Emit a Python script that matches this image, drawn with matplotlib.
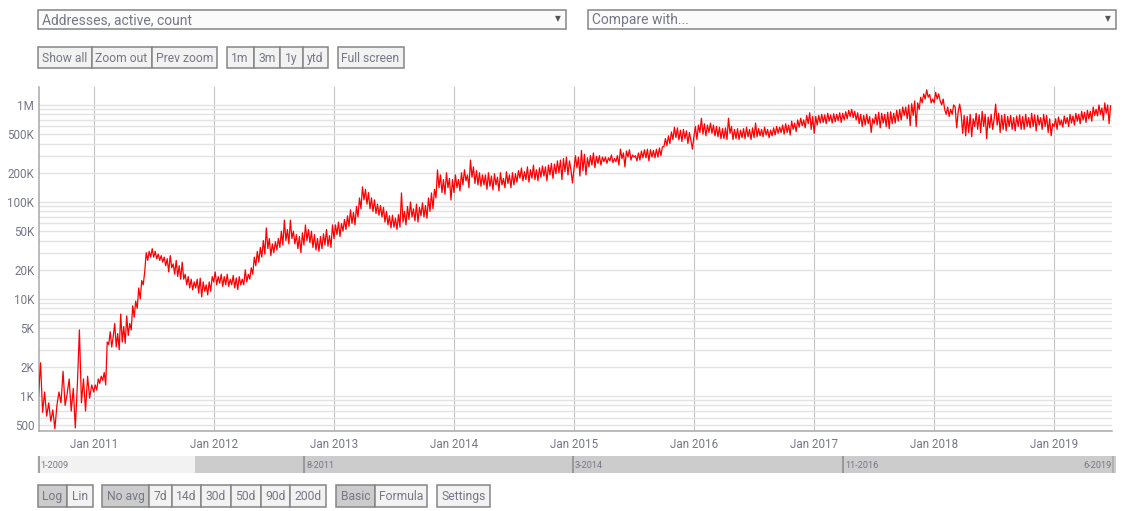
import pandas as pd
import matplotlib
matplotlib.use("Agg")
import matplotlib.pyplot as plt
from matplotlib.patches import Rectangle
from matplotlib.ticker import FixedLocator, NullFormatter

# active addresses, in thousands
y2010 = [1.0, 2.2, 0.68, 1.1, 0.62, 0.85, 0.55, 0.72, 0.46, 0.8, 1.1, 0.85, 1.8, 0.8, 1.05, 1.5, 0.7, 1.2, 0.47, 1.3,
         4.8, 0.85, 1.5, 0.7, 1.6, 0.95, 1.3]
y2011 = [1.1, 1.3, 1.15, 1.5, 1.35, 1.6, 1.45, 1.75, 1.3, 3.6, 3.4, 4.6, 3.2, 4.1, 5.6, 3.2, 4.4, 3.0, 7.0, 3.6,
         5.2, 3.5, 6.7, 4.2, 5.6, 4.8, 8.5, 6.5, 9.5, 8, 13, 10, 15.5, 14, 19, 30, 25, 31, 27, 33,
         27, 31, 26, 29, 25, 28, 24, 27, 22, 26, 19, 28, 21, 23, 18, 25, 17, 22, 16, 24,
         16, 18, 14, 17, 13, 16, 12.4, 15, 13, 16, 11.5, 16.4, 10.5, 15, 12, 14, 11, 15, 12, 17]
y2012 = [15, 19, 14, 17, 14.5, 18, 13.5, 17, 14, 18, 13.5, 16, 14, 17.5, 13, 16.5, 12.5, 17, 14, 16,
         14, 20, 15, 18, 16, 21, 18, 27, 22, 31, 24, 34, 27, 40, 29, 54, 33, 42, 28, 37,
         30, 39, 32, 42, 34, 50, 36, 65, 40, 52, 37, 65, 42, 50, 37, 46, 33, 44, 30, 48,
         36, 58, 40, 52, 38, 50, 34, 46, 32, 42, 31, 44, 33, 47, 36, 52, 35, 45, 34, 58]
y2013 = [42, 58, 46, 62, 44, 60, 50, 66, 52, 72, 56, 83, 60, 78, 58, 90, 70, 110, 85, 143,
         105, 135, 95, 125, 85, 110, 80, 105, 76, 95, 73, 92, 70, 88, 62, 80, 58, 72, 54, 73,
         55, 68, 52, 74, 55, 124, 62, 80, 58, 90, 66, 100, 70, 85, 64, 95, 62, 88, 72, 98,
         70, 92, 68, 110, 80, 124, 85, 135, 110, 214, 140, 190, 125, 170, 120, 200, 140, 175, 105, 170]
y2014 = [125, 190, 140, 170, 130, 200, 150, 215, 165, 190, 140, 270, 180, 230, 155, 210, 150, 200, 145, 190,
         150, 190, 135, 200, 145, 185, 133, 195, 150, 180, 130, 200, 150, 175, 140, 205, 155, 190, 140, 200,
         150, 195, 160, 210, 176, 224, 165, 205, 170, 230, 160, 215, 176, 240, 170, 215, 165, 225, 180, 235,
         185, 230, 165, 240, 190, 250, 175, 245, 195, 265, 200, 270, 170, 280, 205, 290, 190, 265, 215, 157]
y2015 = [215, 300, 225, 290, 185, 340, 210, 310, 190, 285, 230, 300, 240, 320, 225, 295, 250, 300, 240, 290,
         260, 290, 250, 285, 265, 305, 255, 280, 260, 300, 240, 350, 280, 320, 230, 335, 290, 345, 270, 305,
         290, 300, 265, 320, 270, 335, 285, 345, 285, 350, 265, 345, 290, 340, 285, 350, 290, 360, 300, 370,
         370, 450, 380, 480, 400, 527, 440, 590, 460, 580, 436, 550, 420, 560, 450, 540, 400, 520, 430, 350]
y2016 = [470, 600, 440, 620, 520, 730, 500, 640, 480, 620, 520, 650, 510, 620, 480, 600, 470, 590, 450, 570,
         450, 580, 440, 730, 510, 600, 440, 560, 450, 570, 440, 550, 460, 570, 450, 590, 470, 560, 440, 580,
         460, 650, 470, 570, 480, 560, 470, 590, 490, 560, 460, 550, 480, 580, 490, 600, 510, 590, 520, 620,
         500, 640, 520, 620, 490, 680, 560, 650, 530, 700, 590, 730, 610, 700, 580, 780, 640, 830, 560, 760]
y2017 = [510, 760, 620, 780, 650, 800, 660, 790, 640, 820, 680, 790, 650, 810, 670, 800, 690, 830, 660, 820,
         700, 850, 720, 880, 760, 900, 740, 860, 700, 830, 640, 800, 600, 780, 620, 800, 640, 760, 520, 720,
         640, 800, 620, 840, 580, 820, 650, 800, 600, 840, 570, 850, 640, 820, 650, 880, 680, 900, 700, 950,
         780, 950, 720, 1000, 610, 1030, 780, 1100, 600, 1050, 900, 1200, 1050, 1300, 1150, 1430, 1200, 1280, 1050, 1150]
y2018 = [1050, 1350, 1150, 1300, 1100, 1000, 1150, 900, 800, 950, 760, 900, 800, 1000, 950, 580, 850, 1020, 800, 510,
         780, 480, 760, 520, 800, 470, 720, 600, 820, 560, 790, 520, 860, 600, 800, 450, 750, 580, 800, 560,
         720, 1020, 620, 820, 520, 780, 560, 800, 540, 760, 600, 780, 560, 740, 540, 770, 600, 790, 560, 760,
         560, 800, 600, 740, 580, 820, 600, 790, 540, 780, 620, 740, 560, 800, 600, 780, 520, 720, 480, 640]
y2019 = [600, 720, 560, 750, 620, 700, 590, 770, 640, 740, 600, 800, 650, 770, 620, 820, 680, 800, 640, 860,
         700, 840, 660, 880, 720, 860, 680, 950, 780, 900, 770, 1000, 800, 930, 700, 1050, 820, 1000, 640, 980]

yearly = [y2010, y2011, y2012, y2013, y2014, y2015, y2016, y2017, y2018, y2019]
year_starts = ["2010-07-17", "2011-01-01", "2012-01-01", "2013-01-01", "2014-01-01", "2015-01-01",
               "2016-01-01", "2017-01-01", "2018-01-01", "2019-01-01", "2019-06-26"]

y_ticks = [500, 1000, 2000, 5000, 10000, 20000, 50000, 100000, 200000, 500000, 1000000]
y_labels = ["500", "1K", "2K", "5K", "10K", "20K", "50K", "100K", "200K", "500K", "1M"]
year_ticks = ["2011", "2012", "2013", "2014", "2015", "2016", "2017", "2018", "2019"]
nav_dates = ["2009-01-08", "2011-08-08", "2014-03-17", "2016-11-01", "2019-06-15"]
nav_labels = ["1-2009", "8-2011", "3-2014", "11-2016", "6-2019"]

W, H = 1140, 511
TEXT = "#757786"
EDGE = "#858585"

plt.rcParams["font.family"] = ["Roboto", "DejaVu Sans"]


def buildSeries():
	dates, values = [], []
	for idx, vals in enumerate(yearly):
		start = pd.Timestamp(year_starts[idx])
		stop = pd.Timestamp(year_starts[idx + 1])
		step = (stop - start) / len(vals)
		for i, v in enumerate(vals):
			dates.append(start + step * i)
			values.append(v * 1000)
	return dates, values


def axRect(x0, y0, x1, y1):
	# pixel box, y from the top, to figure fractions
	return [x0 / W, 1 - y1 / H, (x1 - x0) / W, (y1 - y0) / H]


def button(ax, x0, x1, y0, y1, label, active=False):
	ax.add_patch(Rectangle((x0, y0), x1 - x0, y1 - y0, fc="#cccccc" if active else "#f2f2f2", ec=EDGE, lw=1.1))
	ax.text((x0 + x1) / 2, (y0 + y1) / 2 + 0.5, label, ha="center", va="center", color=TEXT, fontsize=8.7)


fig = plt.figure(figsize=(W / 100, H / 100), dpi=100, facecolor="white")

# overlay for the html controls, in pixels
ui = fig.add_axes([0, 0, 1, 1])
ui.set_xlim(0, W)
ui.set_ylim(H, 0)
ui.axis("off")

for x0, x1, label in [(37.5, 565.5, "Addresses, active, count"), (587.5, 1115.5, "Compare with...")]:
	ui.add_patch(Rectangle((x0, 10.5), x1 - x0, 18.5, fc="#fbfbfb", ec=EDGE, lw=1.1))
	ui.text(x0 + 4.5, 20, label, ha="left", va="center", color=TEXT, fontsize=10)
	ui.text(x1 - 8, 19, "\u25bc", ha="center", va="center", color="#555555", fontsize=5.5, family="DejaVu Sans")

top_edges = [37.5, 91.5, 151.5, 217]
for i, label in enumerate(["Show all", "Zoom out", "Prev zoom"]):
	button(ui, top_edges[i], top_edges[i + 1], 47, 68.5, label)
range_edges = [226.5, 253.5, 280, 302.5, 328]
for i, label in enumerate(["1m", "3m", "1y", "ytd"]):
	button(ui, range_edges[i], range_edges[i + 1], 47, 68.5, label)
button(ui, 337.5, 403.5, 47, 68.5, "Full screen")

button(ui, 37.5, 67, 485, 507, "Log", True)
button(ui, 67, 92.5, 485, 507, "Lin")
avg_edges = [102, 149, 172, 201, 231, 260.5, 290, 326]
for i, label in enumerate(["No avg", "7d", "14d", "30d", "50d", "90d", "200d"]):
	button(ui, avg_edges[i], avg_edges[i + 1], 485, 507, label, i == 0)
button(ui, 336, 374.5, 485, 507, "Basic", True)
button(ui, 374.5, 427, 485, 507, "Formula")
button(ui, 436.5, 490, 485, 507, "Settings")

# main chart
dates, values = buildSeries()
ax = fig.add_axes(axRect(38.5, 87, 1112, 431))
ax.plot(dates, values, color="#ff0000", lw=0.9, zorder=3)
ax.set_yscale("log")
ax.set_xlim(pd.Timestamp(year_starts[0]), pd.Timestamp(year_starts[-1]))
ax.set_ylim(436, 1530000)

ax.set_yticks(y_ticks)
ax.set_yticklabels(y_labels)
ax.yaxis.set_minor_locator(FixedLocator([m * 10 ** e for e in range(2, 7) for m in range(1, 10)]))
ax.yaxis.set_minor_formatter(NullFormatter())
ax.set_xticks([pd.Timestamp(y + "-01-01") for y in year_ticks])
ax.set_xticklabels(["Jan " + y for y in year_ticks])

ax.grid(True, axis="y", which="both", color="#e3e3e3", lw=1.0, zorder=1)
ax.grid(True, axis="x", which="major", color="#c4c4c4", lw=0.8, zorder=1)
ax.tick_params(axis="both", which="both", length=0, labelcolor=TEXT, labelsize=8.4)
ax.tick_params(axis="x", pad=5)
ax.tick_params(axis="y", pad=3)
for side in ["top", "right"]:
	ax.spines[side].set_visible(False)
for side in ["left", "bottom"]:
	ax.spines[side].set_color("#a8a8a8")
	ax.spines[side].set_linewidth(1.1)

# range navigator
nav = fig.add_axes(axRect(37, 456, 1116, 473))
nav_start = pd.Timestamp("2009-01-01")
nav.set_xlim(nav_start, pd.Timestamp("2019-06-26"))
nav.set_ylim(0, 1)
nav.set_facecolor("#cccccc")
nav.axvspan(nav_start, pd.Timestamp(year_starts[0]), color="#f2f2f2", lw=0)
nav.set_xticks([])
nav.set_yticks([])
for spine in nav.spines.values():
	spine.set_visible(False)
for i, label in enumerate(nav_labels):
	d = pd.Timestamp(nav_dates[i])
	nav.axvline(d, color="#8a8a8a" if i < 4 else "#aaaaaa", lw=1.1)
	if i == len(nav_labels) - 1:
		nav.text(d - pd.Timedelta(days=6), 0.47, label, ha="right", va="center", color=TEXT, fontsize=6.6)
	else:
		nav.text(d + pd.Timedelta(days=6), 0.47, label, ha="left", va="center", color=TEXT, fontsize=6.6)

fig.savefig("out.png", dpi=100)
